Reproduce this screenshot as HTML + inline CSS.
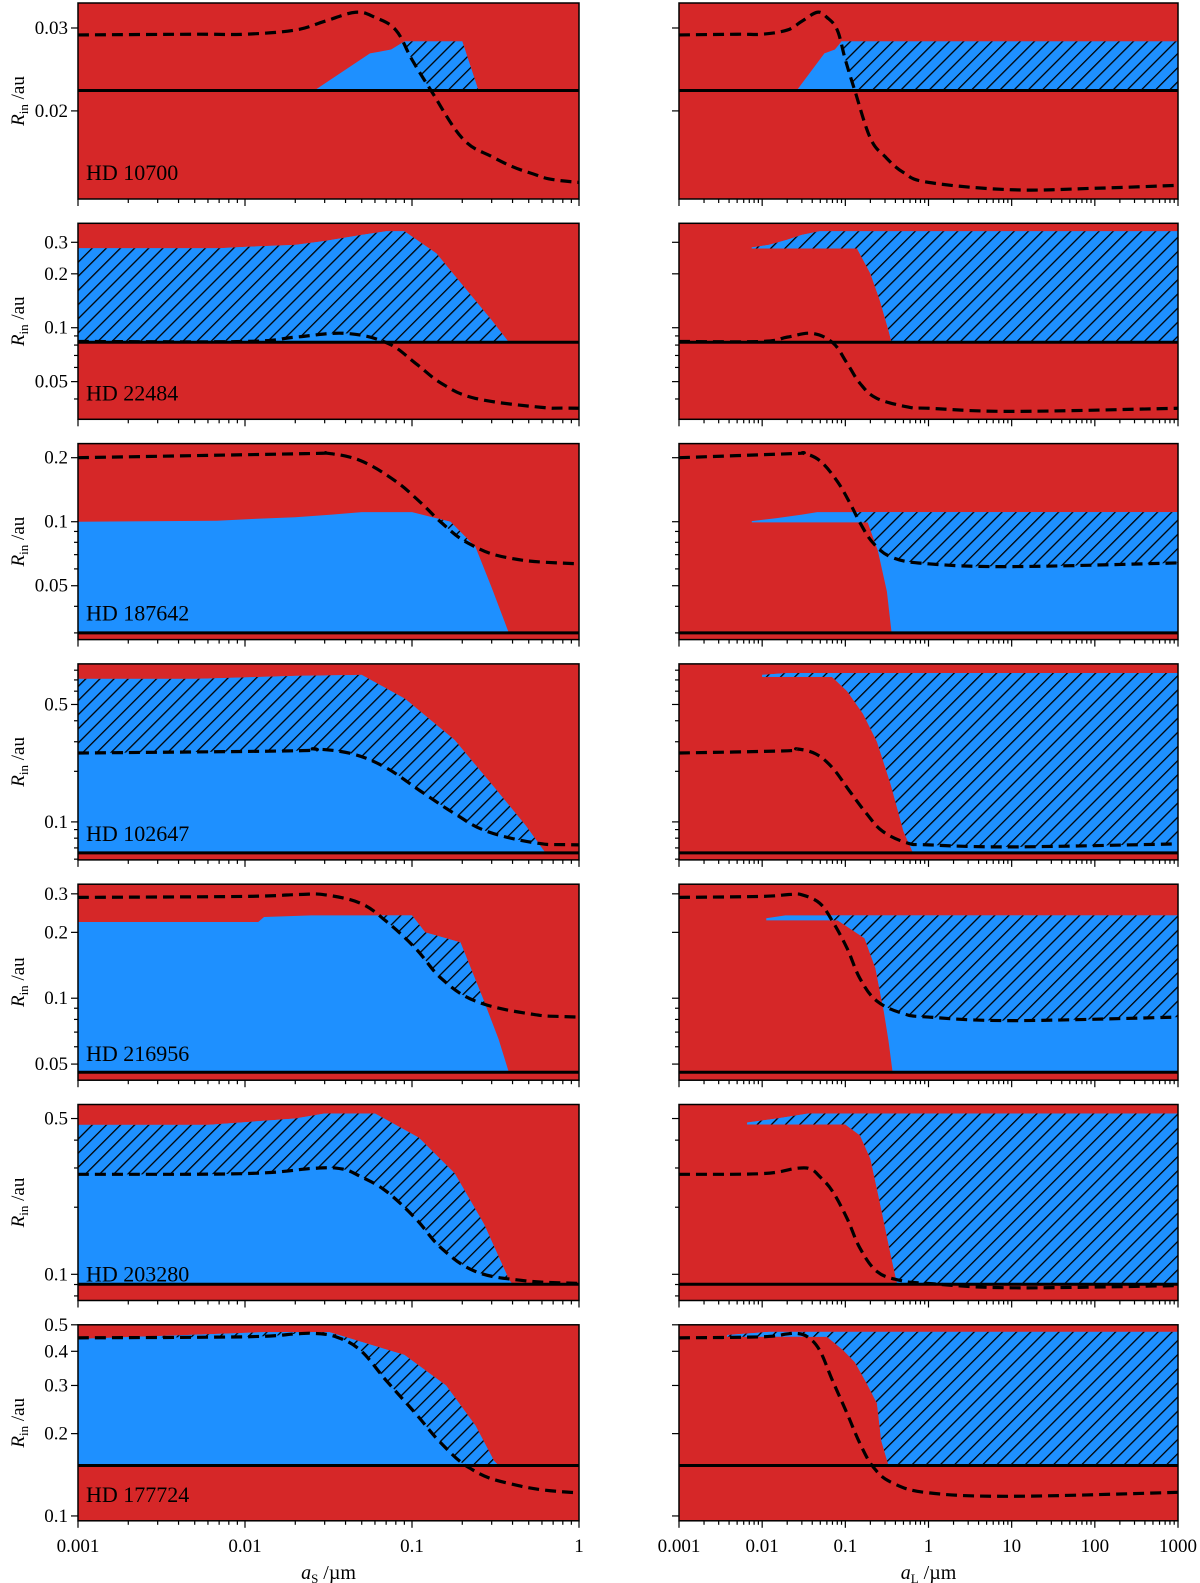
<!DOCTYPE html>
<html><head><meta charset="utf-8"><style>
html,body{margin:0;padding:0;background:#fff;}
svg{display:block;font-family:"Liberation Serif","DejaVu Serif",serif;}
</style></head><body>
<svg id="fig" width="1200" height="1583" viewBox="0 0 1200 1583" xmlns="http://www.w3.org/2000/svg">
<defs>
<pattern id="hatch" patternUnits="userSpaceOnUse" width="10" height="10" patternTransform="rotate(45)">
<rect width="10" height="10" fill="#1e90ff"/>
<line x1="0" y1="0" x2="0" y2="10" stroke="#000" stroke-width="2.6"/>
</pattern>
</defs>
</svg>
<script>
// ---- data (x in µm, y in au) ----
const starNames = ["HD 10700","HD 22484","HD 187642","HD 102647","HD 216956","HD 203280","HD 177724"];
const yDomains = [[0.0130,0.0339],[0.0308,0.383],[0.0279,0.233],[0.0594,0.872],[0.0422,0.332],[0.0763,0.578],[0.096,0.5]];
const innerLines = [0.0221,0.0829,0.030,0.0654,0.0459,0.0902,0.153];
const yTickLabels = [[0.03,0.02],[0.3,0.2,0.1,0.05],[0.2,0.1,0.05],[0.5,0.1],[0.3,0.2,0.1,0.05],[0.5,0.1],[0.5,0.4,0.3,0.2,0.1]];
const xTicksLeft = [0.001,0.01,0.1,1];
const xTickLabelsLeft = ["0.001","0.01","0.1","1"];
const xTicksRight = [0.001,0.01,0.1,1,10,100,1000];
const xTickLabelsRight = ["0.001","0.01","0.1","1","10","100","1000"];

const dash1X=[0.001,0.005,0.01,0.02,0.03,0.046,0.06,0.08,0.1,0.13,0.2,0.3,0.5,1,10,100,1000];
const dash1Y=[0.0290,0.0291,0.0291,0.0297,0.031,0.0324,0.0316,0.0297,0.0257,0.0221,0.0175,0.016,0.0148,0.0141,0.0136,0.0137,0.0139];
const dash2X=[0.001,0.01,0.02,0.04,0.071,0.105,0.15,0.24,0.6,1,10,1000];
const dash2Y=[0.0838,0.0838,0.0886,0.093,0.0822,0.0633,0.0489,0.0403,0.0359,0.0355,0.0341,0.0355];
const dash3X=[0.001,0.023,0.031,0.049,0.079,0.114,0.15,0.215,0.37,1,10,1000];
const dash3Y=[0.2,0.209,0.21,0.194,0.156,0.122,0.099,0.0796,0.0678,0.0634,0.0615,0.064];
const dash4X=[0.001,0.02,0.026,0.044,0.07,0.112,0.18,0.28,0.55,1,10,1000];
const dash4Y=[0.257,0.265,0.272,0.254,0.21,0.153,0.112,0.088,0.075,0.073,0.071,0.074];
const dash5X=[0.001,0.01,0.021,0.03,0.049,0.07,0.105,0.15,0.24,0.5,1,10,1000];
const dash5Y=[0.289,0.292,0.298,0.297,0.272,0.225,0.169,0.123,0.097,0.085,0.082,0.079,0.082];
const dash6X=[0.001,0.01,0.026,0.038,0.049,0.07,0.105,0.15,0.24,0.45,1,10,1000];
const dash6Y=[0.281,0.283,0.299,0.297,0.275,0.236,0.178,0.131,0.103,0.094,0.091,0.087,0.089];
const dash7X=[0.001,0.01,0.02,0.026,0.035,0.049,0.07,0.105,0.15,0.22,0.37,1,10,1000];
const dash7Y=[0.448,0.452,0.463,0.465,0.452,0.404,0.313,0.237,0.184,0.15,0.132,0.1215,0.118,0.122];

// small-grain (left) blue region tops; bottom is the inner line
const left1TopX=[0.026,0.056,0.075,0.09,0.2,0.25];
const left1TopY=[0.0221,0.0265,0.027,0.0281,0.0281,0.0221];
const left2TopX=[0.001,0.007,0.01,0.02,0.03,0.05,0.07,0.09,0.14,0.22,0.3,0.38];
const left2TopY=[0.278,0.278,0.283,0.29,0.305,0.33,0.346,0.346,0.26,0.156,0.11,0.0829];
const left3TopX=[0.001,0.0068,0.011,0.02,0.033,0.05,0.1,0.17,0.24,0.3,0.38];
const left3TopY=[0.1,0.101,0.103,0.105,0.108,0.111,0.111,0.1,0.076,0.049,0.030];
const left4TopX=[0.001,0.005,0.02,0.05,0.091,0.18,0.32,0.48,0.63];
const left4TopY=[0.71,0.71,0.74,0.75,0.54,0.307,0.155,0.095,0.0654];
const left5TopX=[0.001,0.012,0.013,0.025,0.1,0.12,0.195,0.27,0.33,0.38];
const left5TopY=[0.223,0.223,0.235,0.239,0.239,0.2,0.18,0.097,0.065,0.0459];
const left6TopX=[0.001,0.006,0.02,0.03,0.06,0.11,0.18,0.27,0.38,0.4];
const left6TopY=[0.468,0.468,0.5,0.527,0.527,0.41,0.284,0.168,0.095,0.0902];
const left7TopX=[0.001,0.0034,0.013,0.032,0.09,0.16,0.24,0.31,0.33];
const left7TopY=[0.444,0.456,0.47,0.47,0.388,0.3,0.214,0.159,0.153];

// large-grain (right) blue regions: top and bottom boundaries
const right1TopX=[0.026,0.056,0.075,0.09,1000];
const right1TopY=[0.0221,0.0265,0.027,0.0281,0.0281];
const right1BotX=[0.026,1000];
const right1BotY=[0.0221,0.0221];
const right2TopX=[0.0075,0.012,0.02,0.03,0.049,1000];
const right2TopY=[0.281,0.29,0.31,0.33,0.346,0.346];
const right2BotX=[0.0075,0.138,0.2,0.26,0.33,0.36,1000];
const right2BotY=[0.277,0.277,0.201,0.142,0.0966,0.0829,0.0829];
const right3TopX=[0.0075,0.015,0.03,0.046,1000];
const right3TopY=[0.1006,0.104,0.108,0.111,0.111];
const right3BotX=[0.0075,0.186,0.246,0.316,0.36,1000];
const right3BotY=[0.0993,0.0993,0.073,0.047,0.030,0.030];
const right4TopX=[0.01,0.02,1000];
const right4TopY=[0.75,0.77,0.77];
const right4BotX=[0.01,0.069,0.105,0.163,0.24,0.35,0.5,0.65,1000];
const right4BotY=[0.73,0.73,0.6,0.44,0.30,0.168,0.088,0.0654,0.0654];
const right5TopX=[0.0112,0.019,1000];
const right5TopY=[0.232,0.239,0.239];
const right5BotX=[0.0112,0.081,0.17,0.23,0.29,0.33,0.37,1000];
const right5BotY=[0.227,0.227,0.188,0.137,0.087,0.064,0.0459,0.0459];
const right6TopX=[0.0066,0.015,0.036,1000];
const right6TopY=[0.48,0.5,0.527,0.527];
const right6BotX=[0.0066,0.1,0.15,0.2,0.26,0.35,0.42,1000];
const right6BotY=[0.47,0.47,0.42,0.33,0.21,0.123,0.0902,0.0902];
const right7TopX=[0.0038,0.012,1000];
const right7TopY=[0.459,0.471,0.471];
const right7BotX=[0.0038,0.06,0.094,0.13,0.18,0.24,0.27,0.33,1000];
const right7BotY=[0.452,0.452,0.404,0.365,0.306,0.258,0.189,0.153,0.153];

const dashXs=[dash1X,dash2X,dash3X,dash4X,dash5X,dash6X,dash7X];
const dashYs=[dash1Y,dash2Y,dash3Y,dash4Y,dash5Y,dash6Y,dash7Y];
const leftTopXs=[left1TopX,left2TopX,left3TopX,left4TopX,left5TopX,left6TopX,left7TopX];
const leftTopYs=[left1TopY,left2TopY,left3TopY,left4TopY,left5TopY,left6TopY,left7TopY];
const rightTopXs=[right1TopX,right2TopX,right3TopX,right4TopX,right5TopX,right6TopX,right7TopX];
const rightTopYs=[right1TopY,right2TopY,right3TopY,right4TopY,right5TopY,right6TopY,right7TopY];
const rightBotXs=[right1BotX,right2BotX,right3BotX,right4BotX,right5BotX,right6BotX,right7BotX];
const rightBotYs=[right1BotY,right2BotY,right3BotY,right4BotY,right5BotY,right6BotY,right7BotY];

// ---- layout ----
const NS="http://www.w3.org/2000/svg";
const svg=document.getElementById('fig');
const defs=svg.querySelector('defs');
const cols=[{x0:78,x1:579,lo:0.001,hi:1},{x0:679,x1:1178,lo:0.001,hi:1000}];
const rowTop=i=>3+220.3*i;
const H=196;
const L=Math.log10;
function mk(tag,attrs,parent){const e=document.createElementNS(NS,tag);for(const k in attrs)e.setAttribute(k,attrs[k]);(parent||svg).appendChild(e);return e;}
function xScale(c,v){const C=cols[c];return C.x0+(L(v)-L(C.lo))/(L(C.hi)-L(C.lo))*(C.x1-C.x0);}
function yScale(r,v){const d=yDomains[r];return rowTop(r)+(L(d[1])-L(v))/(L(d[1])-L(d[0]))*H;}
function pxy(c,r,xs,ys){return xs.map((x,i)=>[xScale(c,x),yScale(r,ys[i])]);}
function pts(c,r,xs,ys){return pxy(c,r,xs,ys).map(p=>p[0].toFixed(2)+','+p[1].toFixed(2));}
function smoothPath(P){
  let d='M'+P[0][0].toFixed(2)+','+P[0][1].toFixed(2);
  for(let i=0;i<P.length-1;i++){
    const p0=P[Math.max(0,i-1)],p1=P[i],p2=P[i+1],p3=P[Math.min(P.length-1,i+2)];
    const t=0.18;
    const c1=[p1[0]+(p2[0]-p0[0])*t,p1[1]+(p2[1]-p0[1])*t];
    const c2=[p2[0]-(p3[0]-p1[0])*t,p2[1]-(p3[1]-p1[1])*t];
    d+=' C'+c1[0].toFixed(2)+','+c1[1].toFixed(2)+' '+c2[0].toFixed(2)+','+c2[1].toFixed(2)+' '+p2[0].toFixed(2)+','+p2[1].toFixed(2);
  }
  return d;
}

for(let r=0;r<7;r++){
  const T=rowTop(r);
  for(let c=0;c<2;c++){
    const C=cols[c];
    const id='p'+r+'_'+c;
    const g=mk('g',{});
    
    
    const cp=mk('clipPath',{id:'clip'+id},defs);
    mk('rect',{x:C.x0,y:T,width:C.x1-C.x0,height:H},cp);
    const bg=mk('rect',{x:C.x0,y:T,width:C.x1-C.x0,height:H,fill:'#d62728'},g);
    
    
    const inner=mk('g',{'clip-path':'url(#clip'+id+')'},g);
    let topX,topY,botX,botY;
    if(c===0){topX=leftTopXs[r];topY=leftTopYs[r];botX=[topX[0],topX[topX.length-1]];botY=[innerLines[r],innerLines[r]];}
    else{topX=rightTopXs[r];topY=rightTopYs[r];botX=rightBotXs[r];botY=rightBotYs[r];}
    const poly=pts(c,r,topX,topY).concat(pts(c,r,botX,botY).reverse()).join(' ');
    const blue=mk('polygon',{points:poly,fill:'#1e90ff'},inner);
    
    
    const bcp=mk('clipPath',{id:'blue'+id},defs);
    mk('polygon',{points:poly},bcp);
    const dP=pxy(c,r,dashXs[r],dashYs[r]);
    const dpath=smoothPath(dP);
    const acp=mk('clipPath',{id:'above'+id},defs);
    mk('path',{d:dpath+' L'+(C.x1+60)+','+dP[dP.length-1][1].toFixed(2)+' L'+(C.x1+60)+','+(T-50)+' L'+(C.x0-60)+','+(T-50)+' L'+(C.x0-60)+','+dP[0][1].toFixed(2)+' Z'},acp);
    const hg=mk('g',{'clip-path':'url(#above'+id+')'},inner);
    const hatch=mk('rect',{x:C.x0,y:T,width:C.x1-C.x0,height:H,fill:'url(#hatch)','clip-path':'url(#blue'+id+')'},hg);
    
    
    const yl=yScale(r,innerLines[r]);
    const ln=mk('line',{x1:C.x0,x2:C.x1,y1:yl,y2:yl,stroke:'#000','stroke-width':3},inner);
    
    
    const dl=mk('path',{d:dpath,fill:'none',stroke:'#000','stroke-width':3.2,'stroke-dasharray':'11,6'},inner);
    
    
    mk('rect',{x:C.x0,y:T,width:C.x1-C.x0,height:H,fill:'none',stroke:'#000','stroke-width':1.5},g);
    const d=yDomains[r];
    for(let e=-3;e<=0;e++){for(let k=1;k<10;k++){const v=k*Math.pow(10,e);
      if(v<d[0]*0.999||v>d[1]*1.001)continue;
      const y=yScale(r,v);
      const major=yTickLabels[r].some(t=>Math.abs(t-v)/v<1e-6);
      mk('line',{x1:C.x0,x2:C.x0-(major?7:4),y1:y,y2:y,stroke:'#000','stroke-width':1.2},g);
    }}
    if(c===0){
      yTickLabels[r].forEach(v=>{const t=mk('text',{x:C.x0-10,y:yScale(r,v)+6,'text-anchor':'end','font-size':19},g);t.textContent=String(v);
        
        });
      const yt=mk('text',{transform:'translate(24,'+(T+H/2)+') rotate(-90)','text-anchor':'middle','font-size':19},g);
      yt.innerHTML='<tspan font-style="italic">R</tspan><tspan font-size="13" dy="4">in</tspan><tspan dy="-4"> /au</tspan>';
      
      
      const nm=mk('text',{x:86,y:T+H-19,'font-size':22},g);
      nm.textContent=starNames[r];
      
      
    }
    const yb=T+H;
    for(let e=L(C.lo);e<=L(C.hi);e++){for(let k=1;k<10;k++){const v=k*Math.pow(10,e);
      if(v>C.hi*1.001)continue;
      const x=xScale(c,v);
      mk('line',{x1:x,x2:x,y1:yb,y2:yb+(k===1?7:4),stroke:'#000','stroke-width':1.2},g);
    }}
    if(r===6){
      const tk=c===0?xTicksLeft:xTicksRight, tl=c===0?xTickLabelsLeft:xTickLabelsRight;
      tk.forEach((v,i)=>{const t=mk('text',{x:xScale(c,v),y:yb+31,'text-anchor':'middle','font-size':19},g);t.textContent=tl[i];
        
        });
      const xt=mk('text',{x:(C.x0+C.x1)/2,y:yb+58,'text-anchor':'middle','font-size':20},g);
      xt.innerHTML='<tspan font-style="italic">a</tspan><tspan font-size="13" dy="4">'+(c===0?'S':'L')+'</tspan><tspan dy="-4"> /µm</tspan>';
      
      
    }
  }
}
</script>
</body></html>
